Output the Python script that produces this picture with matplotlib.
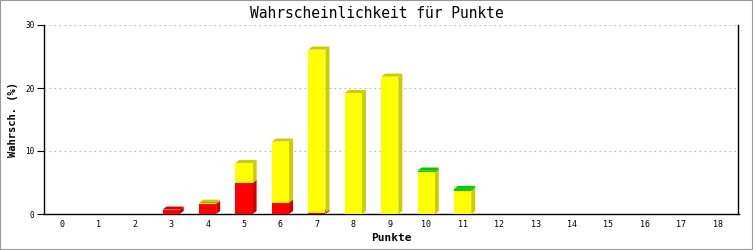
import matplotlib.pyplot as plt
import numpy as np
from matplotlib.patches import Rectangle, Polygon

# Daten
punkte = list(range(19))
rot = [0, 0, 0, 0.7, 1.6, 4.9, 1.8, 0.2, 0, 0, 0, 0, 0, 0, 0, 0, 0, 0, 0]
gelb = [0, 0, 0, 0, 0.2, 3.2, 9.7, 25.9, 19.2, 21.8, 6.6, 3.7, 0, 0, 0, 0, 0, 0, 0]
gruen = [0, 0, 0, 0, 0, 0, 0, 0, 0, 0, 0.3, 0.3, 0, 0, 0, 0, 0, 0, 0]
y_ticks = [0, 10, 20, 30]

serien = [(rot, '#ff0000', '#cc0000'),
          (gelb, '#ffff00', '#cccc00'),
          (gruen, '#00cc00', '#00cc00')]

fig = plt.figure(figsize=(7.53, 2.5), dpi=100)
ax = fig.add_axes([44 / 753, 36 / 250, 694.5 / 753, 189 / 250])

ax.set_xlim(-0.49, 18.57)
ax.set_ylim(0, 30)

breite = 0.47
dx = 4 / 36.44
dy = 3 / 6.3

# gestapelte 3D-Balken
unten = np.zeros(len(punkte))
for werte, farbe, dunkel in serien:
    for i, x in enumerate(punkte):
        h = werte[i]
        if h <= 0:
            continue
        y0 = unten[i]
        y1 = y0 + h
        x0 = x - breite / 2
        x1 = x + breite / 2
        ax.add_patch(Polygon([(x1, y0), (x1 + dx, y0 + dy), (x1 + dx, y1 + dy), (x1, y1)],
                             closed=True, facecolor=dunkel, edgecolor='none', zorder=3))
        ax.add_patch(Polygon([(x0, y1), (x0 + dx, y1 + dy), (x1 + dx, y1 + dy), (x1, y1)],
                             closed=True, facecolor=dunkel, edgecolor='none', zorder=3))
        ax.add_patch(Rectangle((x0, y0), breite, h, facecolor=farbe, edgecolor='none', zorder=4))
    unten = unten + np.array(werte)

for y in y_ticks[1:]:
    ax.axhline(y, color='#bbbbbb', linestyle=(0, (1.5, 3)), linewidth=0.8, zorder=1)

ax.set_xticks(punkte)
ax.set_xticklabels([str(p) for p in punkte], fontsize=6, family='DejaVu Sans Mono')
ax.set_yticks(y_ticks)
ax.set_yticklabels([str(v) for v in y_ticks], fontsize=5.5, family='DejaVu Sans Mono')
ax.tick_params(axis='x', length=0, pad=4)
ax.tick_params(axis='y', length=5, width=0.8, pad=2)

ax.spines['top'].set_visible(False)
for s in ['left', 'bottom', 'right']:
    ax.spines[s].set_linewidth(1.0)

fig.text(0.5, 1 - 13 / 250, 'Wahrscheinlichkeit für Punkte', fontsize=10.5,
         family='DejaVu Sans Mono', ha='center', va='center')
ax.set_xlabel('Punkte', fontsize=8, fontweight='bold', family='DejaVu Sans Mono', labelpad=3)
ax.set_ylabel('Wahrsch. (%)', fontsize=7.5, fontweight='bold', family='DejaVu Sans Mono', labelpad=5)

fig.patches.append(Rectangle((0, 0), 1, 1, transform=fig.transFigure, fill=False,
                             edgecolor='#999999', linewidth=1.5))

fig.savefig('out.png', dpi=100)
